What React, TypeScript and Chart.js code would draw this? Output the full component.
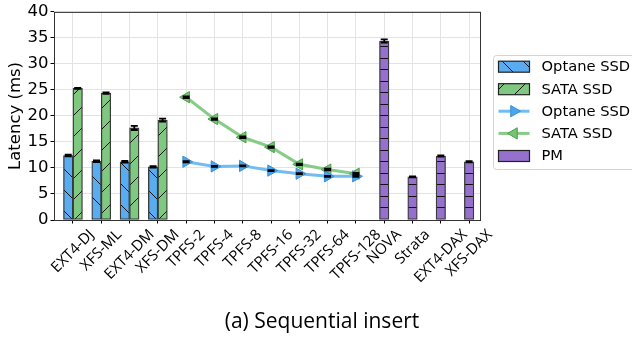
import React, { useEffect, useRef } from 'react';
import { Chart, registerables } from 'chart.js';

Chart.register(...registerables);

// ---- data ----
const categories = [
  'EXT4-DJ', 'XFS-ML', 'EXT4-DM', 'XFS-DM',
  'TPFS-2', 'TPFS-4', 'TPFS-8', 'TPFS-16', 'TPFS-32', 'TPFS-64', 'TPFS-128',
  'NOVA', 'Strata', 'EXT4-DAX', 'XFS-DAX',
];
const optaneBar = [12.4, 11.3, 11.2, 10.2, null, null, null, null, null, null, null, null, null, null, null];
const optaneBarErr = [0.15, 0.15, 0.15, 0.15, null, null, null, null, null, null, null, null, null, null, null];
const sataBar = [25.3, 24.4, 17.7, 19.2, null, null, null, null, null, null, null, null, null, null, null];
const sataBarErr = [0.1, 0.15, 0.4, 0.3, null, null, null, null, null, null, null, null, null, null, null];
const optaneLine = [null, null, null, null, 11.2, 10.3, 10.4, 9.5, 8.9, 8.4, 8.4, null, null, null, null];
const optaneLineErr = [null, null, null, null, 0.1, 0.1, 0.1, 0.1, 0.1, 0.1, 0.1, null, null, null, null];
const sataLine = [null, null, null, null, 23.6, 19.4, 15.9, 14.0, 10.7, 9.7, 8.9, null, null, null, null];
const sataLineErr = [null, null, null, null, 0.15, 0.15, 0.15, 0.15, 0.15, 0.15, 0.15, null, null, null, null];
const pmBar = [null, null, null, null, null, null, null, null, null, null, null, 34.4, 8.3, 12.3, 11.2];
const pmBarErr = [null, null, null, null, null, null, null, null, null, null, null, 0.3, 0.1, 0.1, 0.1];
const yTicks = [0, 5, 10, 15, 20, 25, 30, 35, 40];
const legendLabels = ['Optane SSD', 'SATA SSD', 'Optane SSD', 'SATA SSD', 'PM'];
const yTitle = 'Latency (ms)';
const caption = '(a) Sequential insert';

const BLUE = '#58acef';
const GREEN = '#7fc87f';
const PURPLE = '#9670cd';
const LBLUE = 'rgba(104,184,242,0.95)';
const LGREEN = 'rgba(127,200,127,0.95)';

function makePattern(ctx: CanvasRenderingContext2D, kind: string, color: string) {
  const c = document.createElement('canvas');
  let w = 21, h = 21;
  if (kind === '-') { w = 4; h = 23; }
  c.width = w; c.height = h;
  const g = c.getContext('2d')!;
  g.fillStyle = color;
  g.fillRect(0, 0, w, h);
  g.strokeStyle = '#111';
  g.lineWidth = 1;
  g.beginPath();
  if (kind === '-') {
    g.moveTo(0, 0.5); g.lineTo(w, 0.5);
    g.moveTo(0, 12.5); g.lineTo(w, 12.5);
  } else if (kind === '/') {
    for (let k = -1; k <= 1; k++) { g.moveTo(k * w, h); g.lineTo(k * w + w, 0); }
  } else {
    for (let k = -1; k <= 1; k++) { g.moveTo(k * w, 0); g.lineTo(k * w + w, h); }
  }
  g.stroke();
  return ctx.createPattern(c, 'repeat')!;
}

function tri(ctx: CanvasRenderingContext2D, x: number, y: number, r: number, dir: number, fill: string, stroke: string) {
  ctx.beginPath();
  ctx.moveTo(x + dir * r, y);
  ctx.lineTo(x - dir * r * 0.5, y - r * 0.866);
  ctx.lineTo(x - dir * r * 0.5, y + r * 0.866);
  ctx.closePath();
  ctx.fillStyle = fill;
  ctx.fill();
  ctx.strokeStyle = stroke;
  ctx.lineWidth = 1;
  ctx.stroke();
}

const toXY = (arr: (number | null)[]) => arr.map((v, i) => ({ x: i, y: v }));

export default function App() {
  const ref = useRef<HTMLCanvasElement>(null);
  useEffect(() => {
    document.body.style.margin = '0';
    const canvas = ref.current!;
    const ctx = canvas.getContext('2d')!;
    const pBlue = makePattern(ctx, '\\', BLUE);
    const pGreen = makePattern(ctx, '/', GREEN);
    const pPurple = makePattern(ctx, '-', PURPLE);

    const errSets: [number, (number | null)[], (number | null)[]][] = [
      [0, optaneBar, optaneBarErr],
      [1, sataBar, sataBarErr],
      [2, pmBar, pmBarErr],
      [3, optaneLine, optaneLineErr],
      [4, sataLine, sataLineErr],
    ];

    const overlay = {
      id: 'overlay',
      afterDatasetsDraw(chart: any) {
        const c = chart.ctx as CanvasRenderingContext2D;
        const { left, right, top, bottom } = chart.chartArea;
        const ys = chart.scales.y;
        c.save();
        c.strokeStyle = '#000';
        c.lineWidth = 1.8;
        for (const [di, vals, errs] of errSets) {
          const meta = chart.getDatasetMeta(di);
          vals.forEach((v, i) => {
            if (v == null) return;
            const el = meta.data[i];
            if (!el) return;
            const e = errs[i] || 0;
            const x = el.x;
            const y1 = ys.getPixelForValue(v - e);
            const y2 = ys.getPixelForValue(v + e);
            c.beginPath();
            c.moveTo(x, y1); c.lineTo(x, y2);
            c.moveTo(x - 3.5, y1); c.lineTo(x + 3.5, y1);
            c.moveTo(x - 3.5, y2); c.lineTo(x + 3.5, y2);
            c.stroke();
          });
        }
        c.strokeStyle = '#333';
        c.lineWidth = 1;
        c.strokeRect(left + 0.5, top + 0.5, right - left - 1, bottom - top);
        c.restore();
      },
      afterDraw(chart: any) {
        const c = chart.ctx as CanvasRenderingContext2D;
        const xs = chart.scales.x;
        const { top, bottom } = chart.chartArea;
        c.save();
        const fs = 15;
        c.font = `${fs}px "Open Sans"`;
        c.fillStyle = '#000';
        c.textAlign = 'center';
        c.textBaseline = 'middle';
        const y0 = 227;
        categories.forEach((lab, i) => {
          const px = xs.getPixelForValue(i);
          const L = c.measureText(lab).width;
          const half = (L + fs) / (2 * Math.SQRT2);
          c.save();
          c.translate(px, y0 + half);
          c.rotate(-Math.PI / 4);
          c.fillText(lab, 0, 0);
          c.restore();
        });
        c.save();
        c.font = '16.5px "DejaVu Sans"';
        c.translate(16, (top + bottom) / 2);
        c.rotate(-Math.PI / 2);
        c.textAlign = 'center';
        c.textBaseline = 'middle';
        c.fillText(yTitle, 0, 0);
        c.restore();
        c.font = '21px "Open Sans"';
        c.textAlign = 'center';
        c.textBaseline = 'alphabetic';
        c.fillText(caption, 322, 328);
        const lx = 493.5, ly = 55.5;
        c.beginPath();
        (c as any).roundRect(lx, ly, 170, 114, 3);
        c.fillStyle = 'rgba(255,255,255,0.85)';
        c.fill();
        c.strokeStyle = '#d4d4d4';
        c.lineWidth = 1;
        c.stroke();
        const rowsY = [66.7, 89.2, 111.2, 133.4, 156];
        const px0 = 498.5, pw = 31, ph = 11;
        const fills = [pBlue, pGreen, null, null, PURPLE];
        rowsY.forEach((yy, k) => {
          if (k === 2 || k === 3) {
            c.strokeStyle = k === 2 ? LBLUE : LGREEN;
            c.lineWidth = 3;
            c.beginPath();
            c.moveTo(px0, yy); c.lineTo(px0 + pw, yy);
            c.stroke();
            if (k === 2) tri(c, px0 + pw / 2, yy, 6.5, 1, '#4aa6ee', '#3a8cd0');
            else tri(c, px0 + pw / 2, yy, 6.5, -1, '#75c375', '#4f9e4f');
          } else {
            c.fillStyle = fills[k] as any;
            c.fillRect(px0, yy - ph / 2, pw, ph);
            c.strokeStyle = '#222';
            c.lineWidth = 1.2;
            c.strokeRect(px0, yy - ph / 2, pw, ph);
          }
          c.fillStyle = '#000';
          c.font = '14.7px "DejaVu Sans"';
          c.textAlign = 'left';
          c.textBaseline = 'middle';
          c.fillText(legendLabels[k], 541.5, yy + 0.5);
        });
        c.restore();
      },
    };

    const barCommon = {
      type: 'bar' as const,
      barThickness: 9.5,
      borderWidth: 1.3,
      borderColor: '#3a3a3a',
      borderSkipped: false,
      skipNull: true,
      grouped: true,
    };

    const chart = new Chart(canvas, {
      data: {
        datasets: [
          { ...barCommon, label: legendLabels[0], data: toXY(optaneBar), backgroundColor: pBlue } as any,
          { ...barCommon, label: legendLabels[1], data: toXY(sataBar), backgroundColor: pGreen } as any,
          { ...barCommon, label: legendLabels[4], data: toXY(pmBar), backgroundColor: pPurple } as any,
          {
            type: 'line', label: legendLabels[2], data: toXY(optaneLine),
            borderColor: LBLUE, borderWidth: 3, pointStyle: 'triangle', pointRotation: 90,
            pointRadius: 6.5, pointBackgroundColor: '#4aa6ee', pointBorderColor: '#3a8cd0', pointBorderWidth: 1,
            spanGaps: false,
          } as any,
          {
            type: 'line', label: legendLabels[3], data: toXY(sataLine),
            borderColor: LGREEN, borderWidth: 3, pointStyle: 'triangle', pointRotation: -90,
            pointRadius: 6.5, pointBackgroundColor: '#75c375', pointBorderColor: '#4f9e4f', pointBorderWidth: 1,
            spanGaps: false,
          } as any,
        ],
      },
      options: {
        animation: false,
        responsive: false,
        devicePixelRatio: 1,
        layout: { padding: { left: 0, top: 10, right: 151, bottom: 0 } },
        plugins: { legend: { display: false }, tooltip: { enabled: false } },
        scales: {
          x: {
            type: 'linear',
            min: -0.67,
            max: 14.42,
            offset: false,
            afterBuildTicks: (s: any) => { s.ticks = categories.map((_, i) => ({ value: i })); },
            afterFit: (s: any) => { s.height = 121; },
            ticks: { display: false },
            grid: { offset: false, color: '#e3e3e3', lineWidth: 1, tickColor: '#000', tickLength: 3.5, drawTicks: true },
            border: { display: false },
          },
          y: {
            type: 'linear',
            min: 0,
            max: 40,
            afterBuildTicks: (s: any) => { s.ticks = yTicks.map((v) => ({ value: v })); },
            afterFit: (s: any) => { s.width = 54; },
            ticks: { color: '#000', font: { family: 'DejaVu Sans', size: 16.5 }, padding: 2 },
            grid: { color: '#e3e3e3', lineWidth: 1, tickColor: '#000', tickLength: 3.5, drawTicks: true },
            border: { display: false },
          },
        },
      } as any,
      plugins: [overlay],
    });
    return () => chart.destroy();
  }, []);
  return (
    <div style={{ position: 'fixed', left: 0, top: 0, width: 632, height: 341, background: '#fff' }}>
      <canvas ref={ref} width={632} height={341} style={{ width: 632, height: 341, display: 'block' }} />
    </div>
  );
}
